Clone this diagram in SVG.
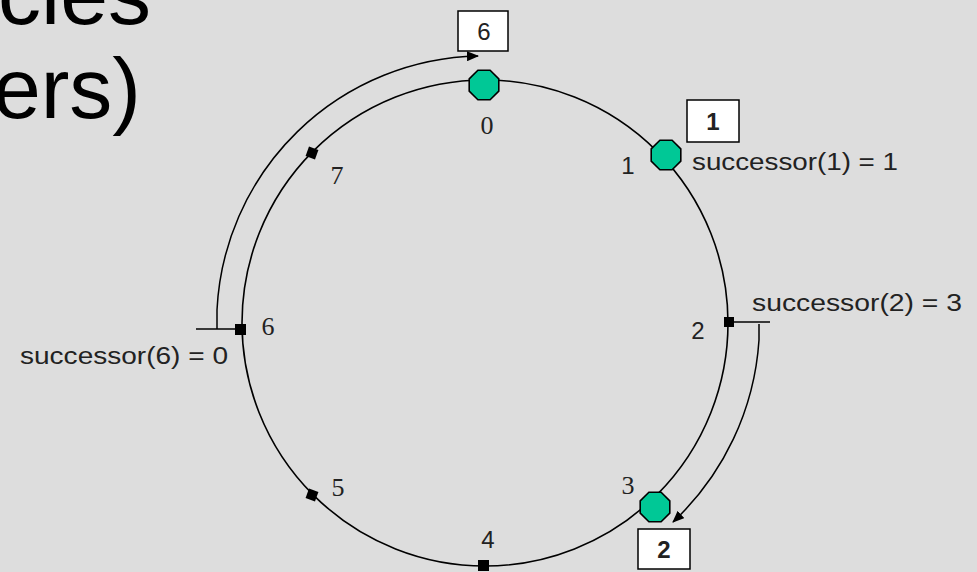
<svg xmlns="http://www.w3.org/2000/svg" width="977" height="572" viewBox="0 0 977 572">
  <style>
    .ring { fill: none; stroke: #000; stroke-width: 1.6; }
    .link { fill: none; stroke: #000; stroke-width: 1.5; }
    .peer { fill: #00c896; stroke: #000; stroke-width: 1.6; }
    .dot { fill: #000; }
    .box { fill: #fff; stroke: #000; stroke-width: 1.5; }
    .serif { font-family: "Liberation Serif", "Times New Roman", serif; font-size: 26px; fill: #222; text-anchor: middle; }
    .sans { font-family: "Liberation Sans", Arial, sans-serif; font-size: 24px; fill: #222; text-anchor: middle; }
    .boxnum { font-family: "Liberation Sans", Arial, sans-serif; font-size: 24px; fill: #222; text-anchor: middle; }
    .bold { font-weight: bold; }
    .succ { font-family: "Liberation Sans", Arial, sans-serif; font-size: 23px; fill: #222; }
    .title { font-family: "Liberation Sans", Arial, sans-serif; font-size: 86px; fill: #000; text-anchor: end; }
  </style>
  <defs>
    <polygon id="octagon" points="14.8,6.1 6.1,14.8 -6.1,14.8 -14.8,6.1 -14.8,-6.1 -6.1,-14.8 6.1,-14.8 14.8,-6.1"/>
    <marker id="arrow" viewBox="0 0 12 10" refX="11" refY="5" markerWidth="12" markerHeight="10" markerUnits="userSpaceOnUse" orient="auto">
      <path d="M0,0 L12,5 L0,10 Z" fill="#000"/>
    </marker>
  </defs>

  <rect x="0" y="0" width="977" height="572" fill="#dddddd"/>

  <!-- slide heading, clipped at the left edge -->
  <g id="heading">
    <text class="title" x="151" y="24">cles</text>
    <text class="title" x="141" y="118">ers)</text>
  </g>

  <!-- identifier ring -->
  <g id="ring">
    <circle class="ring" cx="485" cy="323" r="243"/>
  </g>

  <!-- successor pointers -->
  <g id="connectors">
    <path class="link" d="M196,329 H240"/>
    <path class="link" d="M217,329 V310 A267,267 0 0 1 478,56" marker-end="url(#arrow)"/>
    <path class="link" d="M729,322 H770"/>
    <path class="link" d="M759,324 V340 A274,274 0 0 1 673,522" marker-end="url(#arrow)"/>
  </g>

  <g id="node-0">
    <use href="#octagon" class="peer" x="484" y="85"/>
    <text class="serif" x="487" y="134">0</text>
    <rect class="box" x="458" y="11" width="50" height="40"/>
    <text class="boxnum" x="484" y="40">6</text>
  </g>

  <g id="node-1">
    <use href="#octagon" class="peer" x="666" y="155"/>
    <text class="sans" x="628" y="174">1</text>
    <rect class="box" x="687" y="100" width="52" height="42"/>
    <text class="boxnum bold" x="713" y="130">1</text>
    <text class="succ" x="692" y="170" textLength="206" lengthAdjust="spacingAndGlyphs">successor(1) = 1</text>
  </g>

  <g id="node-2">
    <rect class="dot" x="724" y="317" width="10" height="10"/>
    <text class="sans" x="698" y="339">2</text>
    <text class="succ" x="752" y="311" textLength="210" lengthAdjust="spacingAndGlyphs">successor(2) = 3</text>
  </g>

  <g id="node-3">
    <use href="#octagon" class="peer" x="655" y="507"/>
    <text class="serif" x="628" y="494">3</text>
    <rect class="box" x="638" y="529" width="52" height="40"/>
    <text class="boxnum bold" x="664" y="558">2</text>
  </g>

  <g id="node-4">
    <rect class="dot" x="478" y="560" width="11" height="11"/>
    <text class="sans" x="488" y="548">4</text>
  </g>

  <g id="node-5">
    <rect class="dot" x="307" y="490" width="10" height="10" transform="rotate(20 312 495)"/>
    <text class="serif" x="338" y="496">5</text>
  </g>

  <g id="node-6">
    <rect class="dot" x="235" y="324" width="11" height="11"/>
    <text class="serif" x="268" y="335">6</text>
    <text class="succ" x="20" y="364" textLength="208" lengthAdjust="spacingAndGlyphs">successor(6) = 0</text>
  </g>

  <g id="node-7">
    <rect class="dot" x="307" y="148" width="10" height="10" transform="rotate(20 312 153)"/>
    <text class="serif" x="337" y="184">7</text>
  </g>
</svg>
